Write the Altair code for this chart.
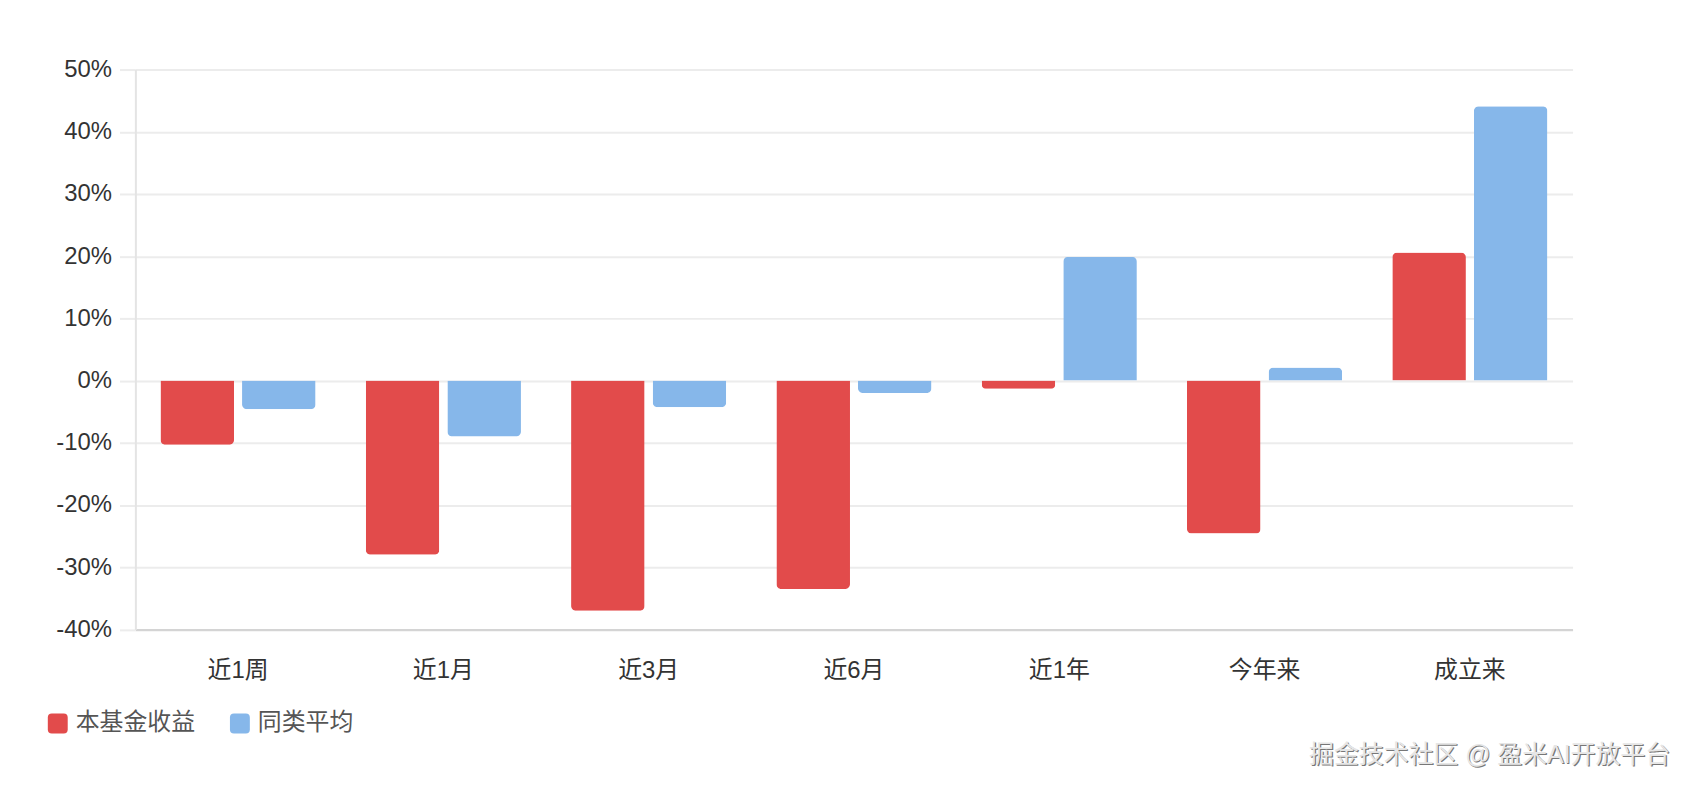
import pandas as pd
import altair as alt

periods = ["近1周", "近1月", "近3月", "近6月", "近1年", "今年来", "成立来"]
series = ["本基金收益", "同类平均"]
fund_values = [-10.3, -28.0, -37.0, -33.5, -1.3, -24.6, 20.6]
peer_values = [-4.6, -9.0, -4.3, -2.0, 19.9, 2.1, 44.1]
colors = ["#E24B4B", "#86B7EA"]
y_ticks = [-40, -30, -20, -10, 0, 10, 20, 30, 40, 50]

FONT = "'Liberation Sans', 'Noto Sans CJK SC', sans-serif"

df = pd.DataFrame({
    "period": periods * 2,
    "series": [series[0]] * len(periods) + [series[1]] * len(periods),
    "value": fund_values + peer_values,
})

# rounded square for the legend swatches
rounded_square = ("M-1,-0.6 Q-1,-1 -0.6,-1 L0.6,-1 Q1,-1 1,-0.6 L1,0.6 "
                  "Q1,1 0.6,1 L-0.6,1 Q-1,1 -1,0.6 Z")

base = alt.Chart(df).encode(
    x=alt.X("period:N", sort=periods,
            scale=alt.Scale(paddingInner=0.244, paddingOuter=0.122),
            axis=alt.Axis(title=None, labelAngle=0, ticks=False, grid=False,
                          labelFontSize=24, labelColor="#333", labelFont=FONT,
                          labelPadding=29, domainColor="#d4d4d4", domainWidth=2)),
    xOffset=alt.XOffset("series:N", sort=series,
                        scale=alt.Scale(paddingInner=0.0976, paddingOuter=0)),
    y=alt.Y("value:Q",
            scale=alt.Scale(domain=[-40, 50], nice=False, zero=False),
            axis=alt.Axis(title=None, values=y_ticks, labelExpr="datum.value + '%'",
                          labelFontSize=24, labelColor="#333", labelFont=FONT,
                          labelPadding=8, tickSize=16, tickColor="#ececec", tickWidth=2,
                          gridColor="#ececec", gridWidth=2,
                          domainColor="#e4e4e4", domainWidth=2)),
    color=alt.Color("series:N", sort=series,
                    scale=alt.Scale(domain=series, range=colors),
                    legend=alt.Legend(title=None, orient="none", legendX=-90, legendY=645,
                                      direction="horizontal", columns=2, padding=0,
                                      symbolType=rounded_square, symbolSize=400,
                                      symbolStrokeWidth=0, symbolOpacity=1,
                                      labelFontSize=24, labelColor="#555", labelFont=FONT,
                                      labelOffset=6, columnPadding=33)),
)

# positive bars are rounded on top, negative ones at the bottom
pos_bars = base.transform_filter("datum.value >= 0").mark_bar(
    cornerRadiusTopLeft=5, cornerRadiusTopRight=5)
neg_bars = base.transform_filter("datum.value < 0").mark_bar(
    cornerRadiusBottomLeft=5, cornerRadiusBottomRight=5)

mark_text = pd.DataFrame({"t": ["掘金技术社区 @ 盈米AI开放平台"]})
shadow = alt.Chart(mark_text).mark_text(
    align="right", baseline="bottom", fontSize=25, font=FONT, color="#777", dx=1.2, dy=1.2
).encode(x=alt.value(1542), y=alt.value(702), text="t:N")
watermark = alt.Chart(mark_text).mark_text(
    align="right", baseline="bottom", fontSize=25, font=FONT, color="#e6e6e6"
).encode(x=alt.value(1542), y=alt.value(702), text="t:N")

chart = alt.layer(neg_bars, pos_bars, shadow, watermark).properties(
    width=1444,
    height=562.5,
    padding={"left": 128, "top": 60, "right": 116, "bottom": 157},
    autosize=alt.AutoSizeParams(type="none"),
    background="white",
).configure_view(stroke=None)

chart.save("out.html", embed_options={"renderer": "svg", "actions": False})
